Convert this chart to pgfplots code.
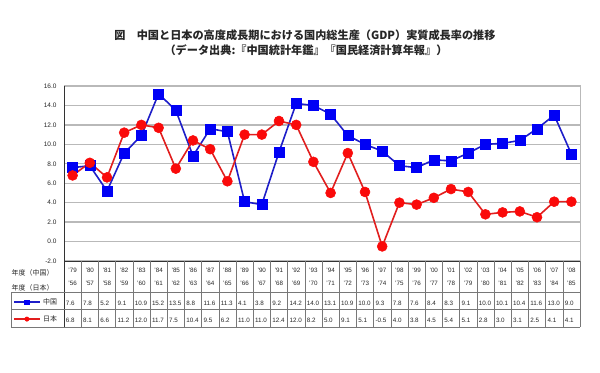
\documentclass[border=0pt]{standalone}
\usepackage{pgfplots}
\pgfplotsset{compat=1.18}
\usepackage{pgfplotstable}
\usepackage{fontspec}
\setmainfont{Liberation Sans}
\newfontfamily\jp{Noto Sans CJK JP}
\definecolor{cblue}{RGB}{0,0,245}
\definecolor{cblueline}{RGB}{30,30,200}
\definecolor{cred}{RGB}{250,10,10}
\definecolor{credline}{RGB}{225,30,30}
\definecolor{gridc}{RGB}{185,185,185}
\definecolor{tablec}{RGB}{120,120,120}
\tikzset{
  tbltxt/.style={font=\fontsize{6.3}{7}\selectfont, text=black!85, inner sep=0pt},
  tblval/.style={font=\fontsize{6.3}{7}\selectfont, text=black!85, inner sep=0pt, anchor=west, xshift=-6.8bp},
}

\pgfplotstableread{
x cy jy china japan
0 79 56 7.6 6.8
1 80 57 7.8 8.1
2 81 58 5.2 6.6
3 82 59 9.1 11.2
4 83 60 10.9 12.0
5 84 61 15.2 11.7
6 85 62 13.5 7.5
7 86 63 8.8 10.4
8 87 64 11.6 9.5
9 88 65 11.3 6.2
10 89 66 4.1 11.0
11 90 67 3.8 11.0
12 91 68 9.2 12.4
13 92 69 14.2 12.0
14 93 70 14.0 8.2
15 94 71 13.1 5.0
16 95 72 10.9 9.1
17 96 73 10.0 5.1
18 97 74 9.3 -0.5
19 98 75 7.8 4.0
20 99 76 7.6 3.8
21 00 77 8.4 4.5
22 01 78 8.3 5.4
23 02 79 9.1 5.1
24 03 80 10.0 2.8
25 04 81 10.1 3.0
26 05 82 10.4 3.1
27 06 83 11.6 2.5
28 07 84 13.0 4.1
29 08 85 9.0 4.1
}\tbl

\begin{document}
\begin{tikzpicture}
\path[use as bounding box] (0bp,0bp) rectangle (600bp,373bp);
\node[font=\jp\bfseries\fontsize{11.2}{13}\selectfont, text=black!85, inner sep=0] at (305bp,338bp) {図\quad 中国と日本の高度成長期における国内総生産（GDP）実質成長率の推移};
\node[font=\jp\bfseries\fontsize{11.2}{13}\selectfont, text=black!85, inner sep=0] at (306bp,323bp) {（データ出典:『中国統計年鑑』『国民経済計算年報』）};
\begin{axis}[
  at={(64bp,112bp)}, anchor=south west,
  scale only axis, width=516bp, height=175bp,
  xmin=-0.5, xmax=29.5, ymin=-2, ymax=16,
  ytick={-2,0,2,4,6,8,10,12,14,16},
  xtick=\empty,
  major tick length=0pt,
  ymajorgrids,
  grid style={gridc, line width=1.3bp},
  axis line style={gridc, line width=1bp},
  yticklabel style={font=\fontsize{6.5}{7}\selectfont, text=black!85,
    /pgf/number format/fixed, /pgf/number format/fixed zerofill,
    /pgf/number format/precision=1, xshift=-4bp},
  /pgf/number format/assume math mode=true,
  clip=false,
  legend style={at={(axis cs:-3.45,-7.10)}, anchor=west, draw=none, fill=none,
    inner sep=0pt, outer sep=0pt, row sep=10bp,
    font=\jp\fontsize{7}{8}\selectfont, text=black!85,
    nodes={inner sep=0pt, text height=5.5bp, text depth=1.5bp},
    /tikz/every odd column/.append style={column sep=2.5bp}},
  legend cell align=left,
  legend image code/.code={\draw[#1, mark repeat=2, mark phase=2, mark size=2.2bp, line width=1.3bp] plot coordinates {(0bp,0bp)(13bp,0bp)(26bp,0bp)};},
]
\addplot[cblueline, line width=1.6bp, mark=square*, mark size=5bp, mark options={fill=cblue, draw=cblue, line width=0.5bp}] table[x=x, y=china]{\tbl};
\addlegendentry{中国}
\addplot[credline, line width=1.6bp, mark=*, mark size=5bp, mark options={fill=cred, draw=cred, line width=0.5bp}] table[x=x, y=japan]{\tbl};
\addlegendentry{日本}

% axis frame parts
\draw[black!80, line width=0.9bp] (axis cs:-0.5,16) -- (axis cs:-0.5,-8.79);
\draw[black!80, line width=0.9bp] (axis cs:-0.5,-2) -- (axis cs:29.5,-2);
% table
\pgfplotsinvokeforeach{0.5,1.5,...,29.5}{
  \draw[tablec, line width=0.6bp] (axis cs:#1,-2) -- (axis cs:#1,-8.79);
}
\draw[tablec, line width=0.6bp] (axis cs:-3.58,-5.19) -- (axis cs:29.5,-5.19);
\draw[tablec, line width=0.6bp] (axis cs:-3.58,-6.94) -- (axis cs:29.5,-6.94);
\draw[tablec, line width=0.6bp] (axis cs:-3.58,-8.79) -- (axis cs:29.5,-8.79);
\draw[tablec, line width=0.6bp] (axis cs:-3.58,-5.19) -- (axis cs:-3.58,-8.79);
\node[font=\jp\fontsize{7}{8}\selectfont, text=black!85, anchor=east, inner sep=0] at (axis cs:-1.1,-3.23) {年度（中国）};
\node[font=\jp\fontsize{7}{8}\selectfont, text=black!85, anchor=east, inner sep=0] at (axis cs:-1.1,-4.78) {年度（日本）};
\pgfplotsinvokeforeach{0,...,29}{
  \pgfplotstablegetelem{#1}{cy}\of\tbl \let\cyv\pgfplotsretval
  \pgfplotstablegetelem{#1}{jy}\of\tbl \let\jyv\pgfplotsretval
  \pgfplotstablegetelem{#1}{china}\of\tbl \let\cv\pgfplotsretval
  \pgfplotstablegetelem{#1}{japan}\of\tbl \let\jv\pgfplotsretval
  \edef\tmp{%
    \noexpand\node[tbltxt] at (axis cs:#1,-2.93) {'\cyv};
    \noexpand\node[tbltxt] at (axis cs:#1,-4.26) {'\jyv};
    \noexpand\node[tblval] at (axis cs:#1,-6.32) {\cv};
    \noexpand\node[tblval] at (axis cs:#1,-8.07) {\jv};
  }\tmp
}
\end{axis}
\end{tikzpicture}
\end{document}
